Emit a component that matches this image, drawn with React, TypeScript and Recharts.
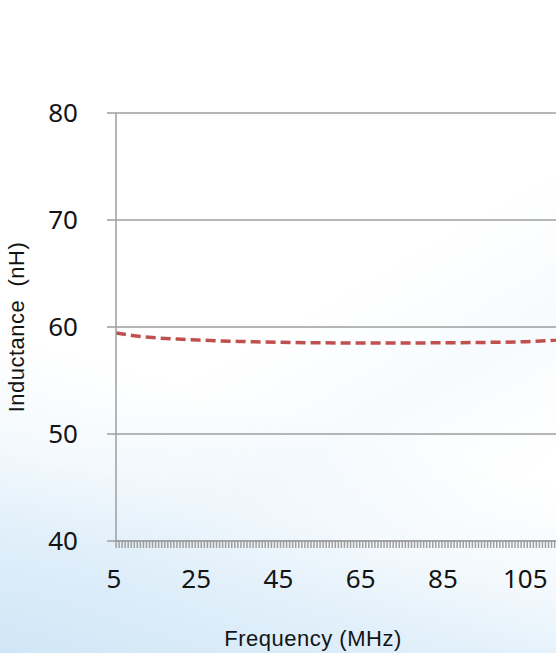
import { LineChart, Line, XAxis, YAxis, CartesianGrid } from "recharts";

document.body.style.margin = "0";

// Frequency (MHz) vs measured inductance (nH)
const frequency = [5, 10, 15, 20, 25, 35, 45, 55, 65, 75, 85, 95, 105, 112];
const inductance = [
  59.45, 59.15, 58.98, 58.87, 58.78, 58.65, 58.57, 58.52, 58.5, 58.5, 58.53,
  58.56, 58.63, 58.78,
];

const xLabels = [5, 25, 45, 65, 85, 105];
const yTicks = [40, 50, 60, 70, 80];

// minor tick marks along the category axis, 27 per 20 MHz
const minorTicks = Array.from({ length: 145 }, (_, i) => 5 + (20 * i) / 27);

const data = frequency.map((f, i) => ({ f, L: inductance[i] }));

const GRID = "#9e9e9e";
const TEXT = "#141414";
const tickFont = "'Noto Sans', 'Open Sans', sans-serif";
const titleFont = "'Liberation Sans', Arial, sans-serif";

function FreqTick(props: any) {
  const { x, y, payload } = props;
  const label = xLabels.find((l) => Math.abs(l - payload.value) < 1e-6);
  if (label === undefined) return <g />;
  return (
    <text
      x={x - 2}
      y={y}
      dy="0.71em"
      textAnchor="middle"
      fill={TEXT}
      fontSize={26}
      fontFamily={tickFont}
    >
      {label}
    </text>
  );
}

export default function App() {
  return (
    <div
      style={{
        position: "relative",
        width: 556,
        height: 653,
        background:
          "linear-gradient(15deg, rgba(206,229,246,0.95) 0%, rgba(216,235,249,0.75) 16%, rgba(232,243,251,0.5) 26%, rgba(255,255,255,0) 40%), linear-gradient(330deg, rgba(255,255,255,0) 20%, rgba(242,248,253,0.6) 35%, rgba(255,255,255,0) 50%), #ffffff",
      }}
    >
      <LineChart
        width={556}
        height={653}
        data={data}
        margin={{ top: 113, right: 0, left: 0, bottom: 0 }}
      >
        <CartesianGrid vertical={false} stroke={GRID} strokeWidth={1.5} />
        <XAxis
          dataKey="f"
          type="number"
          domain={[5, 112]}
          allowDataOverflow
          ticks={minorTicks}
          interval={0}
          height={112}
          tickSize={7}
          tickMargin={22}
          stroke={GRID}
          strokeWidth={1.5}
          tick={<FreqTick />}
          label={{
            content: () => (
              <text
                x={313}
                y={640}
                textAnchor="middle"
                dominantBaseline="middle"
                fill={TEXT}
                fontSize={22}
                letterSpacing={0.5}
                fontFamily={titleFont}
              >
                Frequency (MHz)
              </text>
            ),
          }}
        />
        <YAxis
          type="number"
          domain={[40, 80]}
          ticks={yTicks}
          interval={0}
          width={116}
          tickSize={9}
          tickMargin={29}
          stroke={GRID}
          strokeWidth={1.5}
          tick={{ fill: TEXT, fontSize: 26, fontFamily: tickFont }}
          label={{
            content: () => (
              <text
                x={18}
                y={327}
                transform="rotate(-90 18 327)"
                textAnchor="middle"
                dominantBaseline="middle"
                fill={TEXT}
                fontSize={22}
                letterSpacing={0.5}
                fontFamily={titleFont}
                style={{ whiteSpace: "pre" }}
              >
                {"Inductance  (nH)"}
              </text>
            ),
          }}
        />
        <Line
          type="monotone"
          dataKey="L"
          stroke="#c0504d"
          strokeWidth={3.5}
          strokeDasharray="10 5"
          dot={false}
          activeDot={false}
          isAnimationActive={false}
        />
      </LineChart>
    </div>
  );
}
